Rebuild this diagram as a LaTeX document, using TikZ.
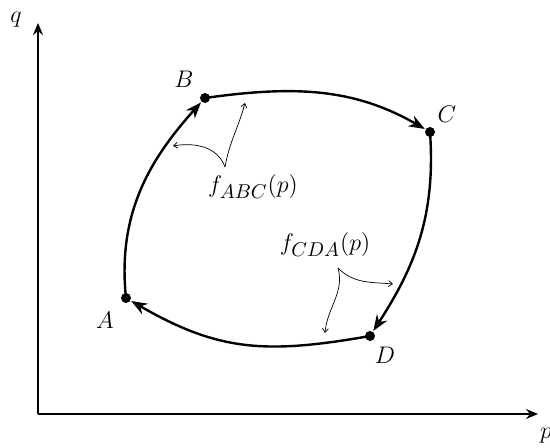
\documentclass[tikz,border=0pt]{standalone}
\usepackage{amsmath,amssymb}
\usetikzlibrary{arrows.meta}

\begin{document}
\begin{tikzpicture}[x=0.5pt,y=0.5pt,
  cycleline/.style={line width=1.2pt,-{Stealth[length=8pt,width=6pt]},shorten >=3pt},
  noteline/.style={line width=0.35pt,-{Straight Barb[length=2pt,width=3pt]}},
  ptlabel/.style={font=\large}]
  \useasboundingbox (0,0) rectangle (550,448);
  % axes
  \coordinate (O) at (38,34);
  \coordinate (qend) at (38,425);
  \coordinate (pend) at (538,34);
  \draw[line width=0.6pt,-{Stealth[length=6pt,width=5pt]}] (O)--(qend);
  \draw[line width=0.6pt,-{Stealth[length=6pt,width=5pt]}] (O)--(pend);
  \node[ptlabel] (qlab) at (16,428) {$q$};
  \node[ptlabel] (plab) at (546,12) {$p$};
  % the cycle
  \coordinate (A) at (126,150);
  \coordinate (B) at (205,350);
  \coordinate (C) at (430,316);
  \coordinate (D) at (370,112);
  \draw[cycleline] (A) to[out=96,in=228] (B);
  \draw[cycleline] (B) to[out=8,in=150] (C);
  \draw[cycleline] (C) to[out=-86,in=57] (D);
  \draw[cycleline] (D) to[out=190,in=-30,looseness=1.1] (A);
  \foreach \pt in {A,B,C,D} \fill (\pt) circle (5);
  \node[ptlabel] (Alab) at (105,128) {$A$};
  \node[ptlabel] (Blab) at (184,369) {$B$};
  \node[ptlabel] (Clab) at (447,334) {$C$};
  \node[ptlabel] (Dlab) at (385,93) {$D$};
  % the two labels
  \node[ptlabel] (fabc) at (253,261) {$f_{\mbox{\normalsize$ABC$}}(p)$};
  \node[ptlabel] (fcda) at (325,203) {$f_{\mbox{\normalsize$CDA$}}(p)$};
  \coordinate (abc) at (225,281);
  \coordinate (abcl) at (173,302);
  \coordinate (abcu) at (245,345);
  \coordinate (cda) at (338,180);
  \coordinate (cdar) at (393,164);
  \coordinate (cdad) at (325,115);
  \draw[noteline] (abc) to[out=110,in=10] (abcl);
  \draw[noteline] (abc) to[out=80,in=255] (abcu);
  \draw[noteline] (cda) to[out=-45,in=175] (cdar);
  \draw[noteline] (cda) to[out=-75,in=85] (cdad);
\end{tikzpicture}
\end{document}
